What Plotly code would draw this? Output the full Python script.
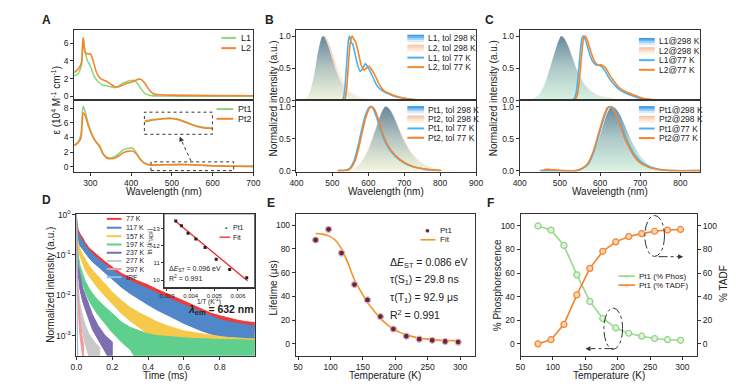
import plotly.graph_objects as go

W, H = 749, 389
def fx(p): return p / W
def fy(p): return 1 - p / H

FONT = "Liberation Sans, Arial, sans-serif"

# ---------------- DATA ----------------
# Panel A (absorption, 10^4 M-1 cm-1)
wl_L1 = [260, 270, 278, 282, 287, 293, 300, 310, 320, 330, 340, 350, 360, 370, 380, 390, 400, 408, 415, 425, 435, 450, 480, 550, 700]
eps_L1 = [2.3, 2.6, 3.5, 6.6, 5.0, 4.0, 3.4, 2.2, 1.6, 1.3, 1.2, 1.1, 1.0, 1.2, 1.5, 1.7, 1.8, 1.8, 1.5, 0.8, 0.3, 0.1, 0.05, 0.03, 0.02]
wl_L2 = [260, 270, 278, 282, 287, 293, 300, 305, 315, 325, 340, 350, 360, 370, 380, 390, 400, 410, 420, 425, 435, 445, 455, 470, 500, 600, 700]
eps_L2 = [2.7, 3.1, 3.8, 6.6, 5.0, 4.8, 4.8, 4.3, 2.7, 2.0, 1.7, 1.4, 1.1, 1.1, 1.3, 1.5, 1.6, 1.8, 1.95, 1.9, 1.4, 0.7, 0.3, 0.2, 0.15, 0.1, 0.08]
wl_Pt = [260, 270, 277, 282, 287, 295, 305, 315, 322, 330, 340, 350, 360, 370, 380, 390, 400, 405, 412, 420, 430, 440, 450, 470, 500, 525, 550, 575, 600, 625, 650, 700]
eps_Pt1 = [2.9, 3.4, 4.5, 8.3, 7.6, 5.8, 4.3, 3.3, 2.8, 1.8, 1.3, 1.2, 1.4, 1.8, 2.3, 2.5, 2.55, 2.5, 2.0, 1.2, 0.6, 0.35, 0.24, 0.26, 0.285, 0.295, 0.27, 0.2, 0.13, 0.09, 0.08, 0.05]
eps_Pt2 = [2.9, 3.3, 4.0, 7.4, 7.0, 5.6, 4.2, 3.3, 2.9, 1.9, 1.2, 1.1, 1.2, 1.5, 1.9, 2.1, 2.15, 2.1, 1.8, 1.2, 0.6, 0.32, 0.22, 0.245, 0.275, 0.285, 0.26, 0.19, 0.12, 0.075, 0.065, 0.04]

# Panel B (toluene)
wl_B_L1_rt = [420, 430, 440, 450, 460, 470, 475, 480, 490, 500, 510, 520, 530, 540, 550, 560, 580, 600, 620]
I_B_L1_rt = [0, 0.05, 0.18, 0.42, 0.75, 0.98, 1.0, 0.96, 0.82, 0.64, 0.46, 0.32, 0.22, 0.15, 0.1, 0.07, 0.03, 0.01, 0]
wl_B_L2_rt = [425, 435, 445, 455, 465, 475, 480, 485, 495, 505, 515, 525, 535, 545, 555, 565, 585, 605, 630]
I_B_L2_rt = [0, 0.05, 0.18, 0.42, 0.75, 0.97, 1.0, 0.96, 0.83, 0.66, 0.49, 0.35, 0.25, 0.17, 0.12, 0.08, 0.04, 0.015, 0]
wl_B_L1_77 = [400, 525, 530, 535, 540, 545, 548, 552, 556, 562, 570, 578, 585, 592, 598, 605, 615, 625, 640, 660, 680, 700, 720, 740]
I_B_L1_77 = [0, 0, 0.02, 0.2, 0.6, 0.95, 1.0, 0.9, 0.88, 0.75, 0.55, 0.45, 0.5, 0.57, 0.52, 0.45, 0.33, 0.22, 0.14, 0.09, 0.05, 0.03, 0.01, 0]
wl_B_L2_77 = [400, 530, 535, 540, 545, 550, 555, 560, 565, 572, 580, 588, 595, 602, 610, 620, 630, 645, 665, 685, 710, 740, 750]
I_B_L2_77 = [0, 0, 0.02, 0.2, 0.6, 0.9, 1.0, 0.95, 0.9, 0.75, 0.55, 0.47, 0.5, 0.53, 0.47, 0.37, 0.25, 0.14, 0.09, 0.05, 0.02, 0.005, 0]
wl_B_Pt_rt = [540, 560, 580, 600, 620, 635, 645, 650, 660, 670, 680, 690, 700, 720, 740, 760, 780, 800, 850]
I_B_Pt1_rt = [0, 0.03, 0.12, 0.32, 0.63, 0.88, 0.99, 1.0, 0.95, 0.85, 0.72, 0.58, 0.46, 0.27, 0.15, 0.08, 0.04, 0.02, 0]
I_B_Pt2_rt = [0, 0.04, 0.14, 0.35, 0.66, 0.9, 0.99, 1.0, 0.96, 0.87, 0.74, 0.6, 0.48, 0.29, 0.17, 0.09, 0.05, 0.02, 0]
wl_B_Pt1_77 = [515, 540, 550, 560, 570, 580, 590, 600, 607, 615, 625, 635, 645, 660, 680, 700, 720, 740, 760, 780, 800]
I_B_Pt1_77 = [0, 0.01, 0.05, 0.15, 0.35, 0.6, 0.83, 0.97, 1.0, 0.95, 0.8, 0.62, 0.47, 0.32, 0.2, 0.12, 0.07, 0.04, 0.02, 0.01, 0]
wl_B_Pt2_77 = [515, 543, 553, 563, 573, 583, 593, 603, 610, 618, 628, 638, 648, 663, 683, 703, 723, 743, 763, 783, 803]
I_B_Pt2_77 = [0, 0.01, 0.05, 0.15, 0.35, 0.6, 0.83, 0.97, 1.0, 0.95, 0.8, 0.62, 0.47, 0.32, 0.2, 0.12, 0.07, 0.04, 0.02, 0.01, 0]

# Panel C (film)
wl_C_L_rt = [430, 450, 465, 480, 495, 503, 510, 520, 530, 540, 550, 560, 575, 590, 610, 640, 680, 700]
I_C_L1_rt = [0, 0.1, 0.3, 0.6, 0.9, 1.0, 0.97, 0.85, 0.68, 0.5, 0.36, 0.25, 0.15, 0.09, 0.05, 0.02, 0.005, 0]
I_C_L2_rt = [0, 0.09, 0.28, 0.58, 0.89, 1.0, 0.98, 0.87, 0.7, 0.53, 0.39, 0.27, 0.17, 0.1, 0.06, 0.025, 0.006, 0]
wl_C_L1_77 = [400, 530, 535, 540, 545, 550, 555, 558, 562, 568, 575, 582, 590, 600, 610, 620, 630, 645, 660, 680, 700, 720, 740]
I_C_L1_77 = [0, 0, 0.02, 0.1, 0.35, 0.7, 0.97, 1.0, 0.97, 0.85, 0.7, 0.6, 0.55, 0.54, 0.48, 0.37, 0.28, 0.18, 0.12, 0.07, 0.03, 0.01, 0]
wl_C_L2_77 = [400, 534, 539, 544, 549, 554, 559, 562, 566, 572, 579, 586, 594, 604, 614, 624, 634, 649, 664, 684, 704, 724, 750]
I_C_L2_77 = [0, 0, 0.02, 0.1, 0.35, 0.7, 0.97, 1.0, 0.97, 0.86, 0.72, 0.61, 0.55, 0.55, 0.5, 0.39, 0.3, 0.19, 0.13, 0.08, 0.035, 0.012, 0]
wl_C_Pt_rt = [540, 560, 575, 590, 605, 615, 625, 630, 640, 650, 660, 670, 680, 690, 700, 720, 740, 760, 790]
I_C_Pt1_rt = [0, 0.05, 0.15, 0.35, 0.65, 0.85, 0.98, 1.0, 0.96, 0.87, 0.73, 0.58, 0.44, 0.33, 0.23, 0.1, 0.045, 0.02, 0]
I_C_Pt2_rt = [0, 0.05, 0.15, 0.36, 0.66, 0.86, 0.98, 1.0, 0.95, 0.85, 0.7, 0.55, 0.41, 0.3, 0.2, 0.09, 0.04, 0.015, 0]
wl_C_Pt1_77 = [450, 540, 555, 570, 585, 600, 610, 620, 625, 635, 645, 655, 665, 675, 685, 700, 720, 740, 760, 780, 850]
I_C_Pt1_77 = [0, 0, 0.03, 0.1, 0.3, 0.62, 0.83, 0.98, 1.0, 0.95, 0.83, 0.67, 0.5, 0.37, 0.26, 0.15, 0.07, 0.03, 0.01, 0, 0]
wl_C_Pt2_77 = [455, 465, 480, 500, 540, 553, 568, 583, 598, 608, 618, 623, 633, 643, 653, 663, 673, 683, 698, 718, 738, 758, 778, 850]
I_C_Pt2_77 = [0.0, 0.02, 0.015, 0.005, 0, 0.03, 0.1, 0.3, 0.62, 0.83, 0.98, 1.0, 0.95, 0.82, 0.65, 0.48, 0.35, 0.24, 0.13, 0.06, 0.025, 0.008, 0, 0]

# Panel D (transient decays, upper / lower envelope of the noisy traces)
t_d = [0, 0.003, 0.01, 0.02, 0.035, 0.05, 0.07, 0.09, 0.12, 0.16, 0.2, 0.25, 0.3, 0.35, 0.4, 0.45, 0.5, 0.55, 0.6, 0.65, 0.7, 0.75, 0.8, 0.85, 0.9, 0.95, 1.0]
d77_hi = [1.0, 0.6, 0.42, 0.33, 0.27, 0.2, 0.15, 0.125, 0.095, 0.068, 0.05, 0.035, 0.027, 0.022, 0.018, 0.014, 0.011, 0.009, 0.0072, 0.0058, 0.0045, 0.0036, 0.0031, 0.0027, 0.0024, 0.0022, 0.0021]
d77_lo = [1.0, 0.45, 0.3, 0.24, 0.2, 0.15, 0.11, 0.09, 0.068, 0.05, 0.036, 0.025, 0.019, 0.015, 0.012, 0.0095, 0.0075, 0.006, 0.0048, 0.0038, 0.003, 0.0024, 0.002, 0.0017, 0.0015, 0.0014, 0.0013]
d117_hi = [1.0, 0.5, 0.36, 0.28, 0.23, 0.17, 0.13, 0.105, 0.08, 0.058, 0.043, 0.03, 0.023, 0.018, 0.0145, 0.0115, 0.009, 0.0072, 0.0058, 0.0047, 0.0037, 0.003, 0.0025, 0.0022, 0.002, 0.0018, 0.0017]
d117_lo = [1.0, 0.3, 0.22, 0.17, 0.14, 0.11, 0.085, 0.068, 0.05, 0.036, 0.025, 0.016, 0.011, 0.0078, 0.0058, 0.0043, 0.0033, 0.0026, 0.002, 0.0016, 0.0013, 0.0011, 0.00095, 0.00085, 0.00078, 0.00072, 0.00068]
d157_hi = [1.0, 0.35, 0.2, 0.14, 0.1, 0.075, 0.055, 0.042, 0.03, 0.019, 0.012, 0.0075, 0.005, 0.0037, 0.0028, 0.0022, 0.0018, 0.0015, 0.0013, 0.0012, 0.0011, 0.001, 0.00095, 0.0009, 0.00088, 0.00085, 0.00082]
d157_lo = [1.0, 0.22, 0.12, 0.085, 0.06, 0.042, 0.03, 0.022, 0.015, 0.0095, 0.006, 0.0036, 0.0023, 0.0016, 0.0011, 0.0008, 0.0006, 0.0005, 0.00045, 0.0004, 0.0004, 0.0004, 0.0004, 0.0004, 0.0004, 0.0004, 0.0004]
d197_hi = [1.0, 0.2, 0.1, 0.055, 0.033, 0.022, 0.015, 0.011, 0.0075, 0.0051, 0.0035, 0.0022, 0.0016, 0.0013, 0.0011, 0.001, 0.00095, 0.0009, 0.00088, 0.00085, 0.00085, 0.00082, 0.0008, 0.0008, 0.00078, 0.00078, 0.00075]
d197_lo = [1.0, 0.12, 0.06, 0.032, 0.019, 0.012, 0.0075, 0.0052, 0.0033, 0.002, 0.0012, 0.0007, 0.00045, 0.0002, 0.0002, 0.0002, 0.0002, 0.0002, 0.0002, 0.0002, 0.0002, 0.0002, 0.0002, 0.0002, 0.0002, 0.0002, 0.0002]
t_237 = [0, 0.003, 0.01, 0.02, 0.035, 0.05, 0.07, 0.09, 0.12, 0.16, 0.2]
d237_hi = [1.0, 0.12, 0.055, 0.03, 0.015, 0.01, 0.0055, 0.0033, 0.0018, 0.001, 0.0007]
d237_lo = [1.0, 0.06, 0.028, 0.014, 0.007, 0.0045, 0.0025, 0.0014, 0.0008, 0.0004, 0.0002]
t_277 = [0, 0.003, 0.01, 0.02, 0.035, 0.05, 0.07, 0.1, 0.13]
d277_hi = [1.0, 0.05, 0.015, 0.006, 0.003, 0.0018, 0.0011, 0.0007, 0.0005]
d277_lo = [1.0, 0.025, 0.007, 0.0025, 0.0012, 0.0006, 0.0003, 0.0002, 0.0002]
t_297 = [0, 0.002, 0.005, 0.01, 0.015, 0.02, 0.03, 0.04]
d297_hi = [1.0, 0.2, 0.04, 0.012, 0.005, 0.0025, 0.0011, 0.0006]
d297_lo = [1.0, 0.1, 0.02, 0.005, 0.002, 0.001, 0.0004, 0.0002]
t_irf = [0, 0.002, 0.004, 0.006, 0.01]
d_irf = [1.0, 0.05, 0.003, 0.0005, 0.0002]
decay_labels = ["77 K", "117 K", "157 K", "197 K", "237 K", "277 K", "297 K", "IRF"]
decay_colors = ["#f03a3a", "#4f87c9", "#f6c94a", "#5fcf8e", "#7f6db2", "#c9c9c9", "#f39a9a", "#8dbbe6"]

# Panel D inset (Arrhenius)
invT = [0.00337, 0.00361, 0.00389, 0.00422, 0.00461, 0.00508, 0.00565, 0.00637]
ln_k = [13.45, 13.17, 12.73, 12.39, 11.9, 11.22, 10.62, 10.13]
fit_invT = [0.00335, 0.0064]
fit_lnk = [13.45, 9.95]

# Panel E
T_E = [77, 97, 117, 137, 157, 177, 197, 217, 237, 257, 277, 297]
tau_E = [87.5, 96.5, 76.5, 50, 37, 23, 12.5, 6.5, 4, 3, 2, 1.5]
T_fit = [77, 87, 97, 107, 117, 127, 137, 147, 157, 167, 177, 187, 197, 207, 217, 227, 237, 247, 257, 267, 277, 287, 297]
tau_fit = [93, 92.5, 91, 87.5, 80, 68, 54, 44, 35, 28, 21.5, 16.5, 12.5, 9.7, 7.6, 6.1, 5.0, 4.2, 3.6, 3.2, 2.9, 2.7, 2.5]

# Panel F
T_F = [77, 97, 117, 137, 157, 177, 197, 217, 237, 257, 277, 297]
phos = [100, 96.5, 83.5, 58.5, 36, 21.5, 13.5, 9, 6.5, 4.5, 3.5, 3]
tadf = [0, 3.5, 16.5, 41.5, 64, 78.5, 86.5, 91, 93.5, 95.5, 96.5, 97]

# ---------------- COLORS ----------------
GREEN_A = "#8fd57f"
ORANGE = "#f5852a"
BLUE77 = "#4cb2ef"
FILL_BLUE = [[0, "#f2f5de"], [0.5, "#b6c6c2"], [1, "#66879c"]]
FILL_BLUE_C = [[0, "#d8f3e0"], [0.5, "#afcaca"], [1, "#67899e"]]
FILL_PEACH = [[0, "#fdf5ee"], [1, "#f9d3b8"]]

fig = go.Figure()

def line(x, y, ax, color, width=1.6):
    fig.add_trace(go.Scatter(x=x, y=y, mode="lines", line=dict(color=color, width=width, shape="spline", smoothing=0.6),
                             xaxis="x" + ax, yaxis="y" + ax, hoverinfo="skip"))

def filled(x, y, ax, scale):
    fig.add_trace(go.Scatter(x=x, y=y, mode="lines", line=dict(width=0, shape="spline", smoothing=0.6), fill="tozeroy",
                             fillgradient=dict(type="vertical", colorscale=scale),
                             xaxis="x" + ax, yaxis="y" + ax, hoverinfo="skip"))

# A
line(wl_L1, eps_L1, "", GREEN_A)
line(wl_L2, eps_L2, "", ORANGE)
line(wl_Pt, eps_Pt1, "2", GREEN_A)
line(wl_Pt, eps_Pt2, "2", ORANGE)
line(wl_Pt, eps_Pt1, "3", GREEN_A)
line(wl_Pt, eps_Pt2, "3", ORANGE)

# B
filled(wl_B_L2_rt, I_B_L2_rt, "4", FILL_PEACH)
filled(wl_B_L1_rt, I_B_L1_rt, "4", FILL_BLUE)
line(wl_B_L1_77, I_B_L1_77, "4", BLUE77)
line(wl_B_L2_77, I_B_L2_77, "4", ORANGE)
filled(wl_B_Pt_rt, I_B_Pt2_rt, "5", FILL_PEACH)
filled(wl_B_Pt_rt, I_B_Pt1_rt, "5", FILL_BLUE)
line(wl_B_Pt1_77, I_B_Pt1_77, "5", BLUE77)
line(wl_B_Pt2_77, I_B_Pt2_77, "5", ORANGE)

# C
filled(wl_C_L_rt, I_C_L2_rt, "6", FILL_PEACH)
filled(wl_C_L_rt, I_C_L1_rt, "6", FILL_BLUE_C)
line(wl_C_L1_77, I_C_L1_77, "6", BLUE77)
line(wl_C_L2_77, I_C_L2_77, "6", ORANGE)
filled(wl_C_Pt_rt, I_C_Pt2_rt, "7", FILL_PEACH)
filled(wl_C_Pt_rt, I_C_Pt1_rt, "7", FILL_BLUE_C)
line(wl_C_Pt1_77, I_C_Pt1_77, "7", BLUE77)
line(wl_C_Pt2_77, I_C_Pt2_77, "7", ORANGE)

# D bands
bands = [(t_d, d77_hi, d77_lo), (t_d, d117_hi, d117_lo), (t_d, d157_hi, d157_lo), (t_d, d197_hi, d197_lo),
         (t_237, d237_hi, d237_lo), (t_277, d277_hi, d277_lo), (t_297, d297_hi, d297_lo)]
for (tt, hi, lo), col in zip(bands, decay_colors):
    fig.add_trace(go.Scatter(x=list(tt) + list(tt)[::-1], y=list(hi) + list(lo)[::-1], mode="lines",
                             line=dict(color=col, width=1), fill="toself", fillcolor=col,
                             xaxis="x8", yaxis="y8", hoverinfo="skip"))
fig.add_trace(go.Scatter(x=t_irf, y=d_irf, mode="lines", line=dict(color=decay_colors[7], width=1.2),
                         xaxis="x8", yaxis="y8", hoverinfo="skip"))

# D inset (white background + data)
INS_X = [0.002875, 0.00671]
INS_Y = [9.56, 13.87]
fig.add_trace(go.Scatter(x=[INS_X[0], INS_X[1], INS_X[1], INS_X[0]], y=[INS_Y[0], INS_Y[0], INS_Y[1], INS_Y[1]],
                         mode="none", fill="toself", fillcolor="white", xaxis="x9", yaxis="y9", hoverinfo="skip"))
fig.add_trace(go.Scatter(x=fit_invT, y=fit_lnk, mode="lines", line=dict(color="#f0262b", width=1.3),
                         xaxis="x9", yaxis="y9", hoverinfo="skip"))
fig.add_trace(go.Scatter(x=invT, y=ln_k, mode="markers", marker=dict(color="#222", size=3, symbol="square"),
                         xaxis="x9", yaxis="y9", hoverinfo="skip"))

# E
fig.add_trace(go.Scatter(x=T_fit, y=tau_fit, mode="lines", line=dict(color="#f7931e", width=1.6, shape="spline"),
                         xaxis="x10", yaxis="y10", hoverinfo="skip"))
fig.add_trace(go.Scatter(x=T_E, y=tau_E, mode="markers",
                         marker=dict(color="#6e2236", size=6, line=dict(color="#d7b3bd", width=1.2)),
                         xaxis="x10", yaxis="y10", hoverinfo="skip"))

# F
fig.add_trace(go.Scatter(x=T_F, y=phos, mode="lines+markers", line=dict(color="#96d98a", width=1.6),
                         marker=dict(color="#dff2da", size=6, line=dict(color="#8fd283", width=1.2)),
                         xaxis="x11", yaxis="y11", hoverinfo="skip"))
fig.add_trace(go.Scatter(x=T_F, y=tadf, mode="lines+markers", line=dict(color="#f5822a", width=1.6),
                         marker=dict(color="#fbd3b6", size=6, line=dict(color="#f5822a", width=1.2)),
                         xaxis="x11", yaxis="y12", hoverinfo="skip"))

# ---------------- AXES ----------------
TICKF = dict(family=FONT, size=8.5, color="#222")

def axis(d0, d1, rng, anchor, **kw):
    base = dict(domain=[d0, d1], range=rng, anchor=anchor, showline=True, mirror=True, linecolor="#333",
                linewidth=1, ticks="outside", ticklen=3, tickcolor="#333", tickwidth=1,
                tickfont=TICKF, showgrid=False, zeroline=False)
    base.update(kw)
    return base

def xdom(a, b): return (fx(a), fx(b))
def ydom(top, bot): return (fy(bot), fy(top))

lay = {}
# A
lay["xaxis"] = axis(*xdom(68.4, 251), [260, 700], "y", showticklabels=False, ticks="", tickvals=[300, 400, 500, 600, 700])
lay["yaxis"] = axis(*ydom(26, 98), [-0.45, 7.45], "x", tickvals=[0, 2, 4, 6])
lay["xaxis2"] = axis(*xdom(68.4, 251), [260, 700], "y2", tickvals=[300, 400, 500, 600, 700])
lay["yaxis2"] = axis(*ydom(98, 171), [-0.67, 9.07], "x2", tickvals=[0, 2, 4, 6, 8])
lay["xaxis3"] = dict(domain=list(xdom(140.5, 209)), range=[450, 650], anchor="y3", visible=False)
lay["yaxis3"] = dict(domain=list(ydom(110.5, 132.5)), range=[-0.06, 0.414], anchor="x3", visible=False)
# B
lay["xaxis4"] = axis(*xdom(295, 478), [400, 900], "y4", showticklabels=False, ticks="", tickvals=[400, 500, 600, 700, 800, 900])
lay["yaxis4"] = axis(*ydom(26, 98), [-0.005, 1.09], "x4", tickvals=[0, 0.5, 1.0], tickformat=".1f")
lay["xaxis5"] = axis(*xdom(295, 478), [400, 900], "y5", tickvals=[400, 500, 600, 700, 800, 900])
lay["yaxis5"] = axis(*ydom(98, 171), [-0.015, 1.095], "x5", tickvals=[0, 0.5, 1.0], tickformat=".1f")
# C
lay["xaxis6"] = axis(*xdom(522.5, 706.7), [400, 850], "y6", showticklabels=False, ticks="", tickvals=[400, 500, 600, 700, 800])
lay["yaxis6"] = axis(*ydom(26, 98), [-0.005, 1.09], "x6", tickvals=[0, 0.5, 1.0], tickformat=".1f")
lay["xaxis7"] = axis(*xdom(522.5, 706.7), [400, 850], "y7", tickvals=[400, 500, 600, 700, 800])
lay["yaxis7"] = axis(*ydom(98, 171), [-0.015, 1.095], "x7", tickvals=[0, 0.5, 1.0], tickformat=".1f")
# D
lay["xaxis8"] = axis(*xdom(70.7, 252.5), [0, 0.995], "y8", tickvals=[0, 0.2, 0.4, 0.6, 0.8, 1.0], tickformat=".1f")
lay["yaxis8"] = axis(*ydom(214.3, 360), [-3.5, 0.02], "x8", type="log",
                     tickvals=[1, 0.1, 0.01, 0.001],
                     ticktext=["10<sup>0</sup>", "10<sup>-1</sup>", "10<sup>-2</sup>", "10<sup>-3</sup>"])
INSF = dict(family=FONT, size=6, color="#222")
lay["xaxis9"] = axis(*xdom(160, 252.5), INS_X, "y9", tickvals=[0.003, 0.004, 0.005, 0.006], tickformat=".3f",
                     tickfont=INSF, ticklen=2)
lay["yaxis9"] = axis(*ydom(214.3, 290), INS_Y, "x9", tickvals=[10, 11, 12, 13], tickfont=INSF, ticklen=2)
# E
lay["xaxis10"] = axis(*xdom(294.3, 476.7), [46.4, 322.7], "y10", tickvals=[50, 100, 150, 200, 250, 300])
lay["yaxis10"] = axis(*ydom(214.3, 360), [-10, 109.6], "x10", tickvals=[0, 20, 40, 60, 80, 100])
# F
lay["xaxis11"] = axis(*xdom(523.3, 703.3), [50, 322.7], "y11", tickvals=[50, 100, 150, 200, 250, 300])
lay["yaxis11"] = axis(*ydom(214.3, 360), [-10.1, 110.3], "x11", tickvals=[0, 20, 40, 60, 80, 100], mirror=False)
lay["yaxis12"] = axis(*ydom(214.3, 360), [-10.1, 110.3], "x11", overlaying="y11", side="right",
                      tickvals=[0, 20, 40, 60, 80, 100], mirror=False)

fig.update_layout(**lay)

# ---------------- ANNOTATIONS / SHAPES ----------------
ann = []
shapes = []

def text(x, y, s, size=9, xanchor="left", angle=0, bold=False, color="#222", yanchor="middle"):
    ann.append(dict(x=fx(x), y=fy(y), xref="paper", yref="paper", text=("<b>%s</b>" % s) if bold else s,
                    showarrow=False, xanchor=xanchor, yanchor=yanchor, textangle=angle,
                    font=dict(family=FONT, size=size, color=color)))

def hline(x0, x1, y, color, width=2, dash=None):
    ln = dict(color=color, width=width)
    if dash:
        ln["dash"] = dash
    shapes.append(dict(type="line", xref="paper", yref="paper", x0=fx(x0), x1=fx(x1), y0=fy(y), y1=fy(y), line=ln))

def arrowhead(x, y, dx, dy):
    ann.append(dict(x=fx(x), y=fy(y), xref="paper", yref="paper", ax=dx, ay=dy, showarrow=True, arrowhead=2,
                    arrowsize=1, arrowwidth=1, arrowcolor="#333", text=" ", font=dict(size=1)))

def swatch(x0, x1, yc, cols):
    h = 7.0
    n = len(cols)
    for i, c in enumerate(cols):
        t = yc - h / 2 + i * h / n
        shapes.append(dict(type="rect", xref="paper", yref="paper", x0=fx(x0), x1=fx(x1), y0=fy(t + h / n + 0.3), y1=fy(t),
                           line=dict(width=0), fillcolor=c))

SW_BLUE = ["#3a9be7", "#67b4ef", "#a3d1f6", "#d8ecfb"]
SW_PEACH = ["#f8c4a2", "#fad4bc", "#fce3d3", "#fef1e8"]

# panel letters
text(40, 15, "A", 12, "center", bold=True)
text(268, 15, "B", 12, "center", bold=True)
text(492, 15, "C", 12, "center", bold=True)
text(40, 200, "D", 12, "center", bold=True)
text(269, 203, "E", 12, "center", bold=True)
text(493, 203, "F", 12, "center", bold=True)

# axis titles
TS = 10
text(160, 191, "Wavelength (nm)", TS, "center")
text(386, 191, "Wavelength (nm)", TS, "center")
text(614, 191, "Wavelength (nm)", TS, "center")
text(50, 98, "ε (10<sup>4</sup> M<sup>-1</sup> cm<sup>-1</sup>)", TS, "center", angle=-90)
text(272, 96, "Normalized intensity (a.u.)", TS, "center", angle=-90)
text(496, 96, "Normalized intensity (a.u.)", TS, "center", angle=-90)
text(161.5, 380, "Time (ms)", TS, "center")
text(44, 287, "Normalized intensity (a.u.)", TS, "center", angle=-90)
text(385, 380, "Temperature (K)", TS, "center")
text(272, 290, "Lifetime (μs)", TS, "center", angle=-90)
text(613, 380, "Temperature (K)", TS, "center")
text(500, 288, "% Phosphorescence", TS, "center", angle=-90)
text(730, 286, "% TADF", TS, "center", angle=-90)

# A legends
hline(218.5, 233.5, 33.8, GREEN_A)
text(236, 33.8, "L1", 9)
hline(218.5, 233.5, 44.3, ORANGE)
text(236, 44.3, "L2", 9)
hline(213.5, 230.5, 106.8, GREEN_A)
text(233, 106.8, "Pt1", 9)
hline(213.5, 230.5, 116.8, ORANGE)
text(233, 116.8, "Pt2", 9)

# A inset boxes + arrow
shapes.append(dict(type="rect", xref="paper", yref="paper", x0=fx(140), x1=fx(209.3), y0=fy(132.7), y1=fy(110),
                   line=dict(color="#333", width=1, dash="dot")))
shapes.append(dict(type="rect", xref="paper", yref="paper", x0=fx(146.7), x1=fx(231), y0=fy(170), y1=fy(161),
                   line=dict(color="#333", width=1, dash="dot")))
shapes.append(dict(type="line", xref="paper", yref="paper", x0=fx(187.5), y0=fy(160), x1=fx(177.5), y1=fy(138.5),
                   line=dict(color="#333", width=1, dash="dot")))
arrowhead(176, 135, 2.5, 6)

# B legends
b_top = [(34, "L1, tol 298 K", "sw", SW_BLUE), (44.3, "L2, tol 298 K", "sw", SW_PEACH),
         (54, "L1, tol 77 K", "ln", BLUE77), (63.8, "L2, tol 77 K", "ln", ORANGE)]
b_bot = [(107.3, "Pt1, tol 298 K", "sw", SW_BLUE), (117, "Pt2, tol 298 K", "sw", SW_PEACH),
         (126.7, "Pt1, tol 77 K", "ln", BLUE77), (136.3, "Pt2, tol 77 K", "ln", ORANGE)]
for rows in (b_top, b_bot):
    for y, s, kind, c in rows:
        if kind == "sw":
            swatch(408, 425, y, c)
        else:
            hline(408, 425, y, c, 2)
        text(427, y, s, 8.5)
c_top = [(37.3, "L1@298 K", "sw", SW_BLUE), (46.8, "L2@298 K", "sw", SW_PEACH),
         (56.6, "L1@77 K", "ln", BLUE77), (66.5, "L2@77 K", "ln", ORANGE)]
c_bot = [(107.3, "Pt1@298 K", "sw", SW_BLUE), (117.2, "Pt2@298 K", "sw", SW_PEACH),
         (126.8, "Pt1@77 K", "ln", BLUE77), (136.6, "Pt2@77 K", "ln", ORANGE)]
for rows in (c_top, c_bot):
    for y, s, kind, c in rows:
        if kind == "sw":
            swatch(644, 660, y, c)
        else:
            hline(644, 660, y, c, 2)
        text(662, y, s, 8.5)

# D legend
d_rows = [219.5, 228.6, 237.3, 245.8, 254.3, 262.7, 271, 279.3]
for y, s, c in zip(d_rows, decay_labels, decay_colors):
    hline(101.7, 116.7, y, c, 2)
    text(119.5, y, s, 7)
# D inset frame (redraw on top), legend, texts
shapes.append(dict(type="rect", xref="paper", yref="paper", x0=fx(160), x1=fx(252.5), y0=fy(290), y1=fy(214.3),
                   line=dict(color="#333", width=1)))
ann.append(dict(x=fx(223.5), y=fy(228.5), xref="paper", yref="paper", text="▪", showarrow=False,
                font=dict(size=6, color="#222"), xanchor="center", yanchor="middle"))
text(228.5, 228.5, "Pt1", 7)
hline(216.5, 227.5, 238.3, "#f0262b", 1.3)
text(228.5, 238.3, "Fit", 7)
text(163, 270.5, "Δ<i>E</i><sub>ST</sub> = 0.096 eV", 7)
text(163, 280, "R<sup>2</sup> = 0.991", 7)
text(206, 304, "1/T (K<sup>-1</sup>)", 6.5, "center")
text(145.5, 243, "ln (<i>k</i><sub>TADF</sub>)", 6.5, "center", angle=-90)
text(182, 313, "<b><i>λ</i><sub>em</sub> = 632 nm</b>", 10.5)

# E legend and texts
ann.append(dict(x=fx(429), y=fy(231.7), xref="paper", yref="paper", text="●", showarrow=False,
                font=dict(size=8, color="#6e2236"), xanchor="center", yanchor="middle"))
text(439, 231.7, "Pt1", 8)
hline(421.5, 436.5, 241, "#f7931e", 1.6)
text(439, 241, "Fit", 8)
ES = 10.5
text(388, 265, "Δ<i>E</i><sub>ST</sub> = 0.086 eV", ES)
text(388, 282.5, "τ(S<sub>1</sub>) = 29.8 ns", ES)
text(388, 300.7, "τ(T<sub>1</sub>) = 92.9 μs", ES)
text(388, 317.5, "R<sup>2</sup> = 0.991", ES)

# F legend
hline(623, 640, 278.3, "#96d98a", 1.6)
ann.append(dict(x=fx(631.5), y=fy(278.3), xref="paper", yref="paper", text="○", showarrow=False,
                font=dict(size=8, color="#8fd283"), xanchor="center", yanchor="middle"))
text(642, 278.3, "Pt1 (% Phos)", 8)
hline(623, 640, 287.5, "#f5822a", 1.6)
ann.append(dict(x=fx(631.5), y=fy(287.5), xref="paper", yref="paper", text="○", showarrow=False,
                font=dict(size=8, color="#f5822a"), xanchor="center", yanchor="middle"))
text(642, 287.5, "Pt1 (% TADF)", 8)

# F ellipses and arrows
shapes.append(dict(type="circle", xref="paper", yref="paper", x0=fx(650), x1=fx(670), y0=fy(258), y1=fy(216),
                   line=dict(color="#333", width=1, dash="dashdot")))
shapes.append(dict(type="line", xref="paper", yref="paper", x0=fx(664), x1=fx(684), y0=fy(258.3), y1=fy(258.3),
                   line=dict(color="#333", width=1, dash="dashdot")))
arrowhead(689, 258.3, -6, 0)
shapes.append(dict(type="circle", xref="paper", yref="paper", x0=fx(608.3), x1=fx(627.3), y0=fy(353.3), y1=fy(311),
                   line=dict(color="#333", width=1, dash="dashdot")))
shapes.append(dict(type="line", xref="paper", yref="paper", x0=fx(618), x1=fx(595), y0=fy(352.7), y1=fy(352.7),
                   line=dict(color="#333", width=1, dash="dashdot")))
arrowhead(589.5, 352.7, 6, 0)

fig.update_layout(annotations=ann, shapes=shapes, width=W, height=H, margin=dict(l=0, r=0, t=0, b=0),
                  paper_bgcolor="white", plot_bgcolor="rgba(0,0,0,0)", showlegend=False,
                  font=dict(family=FONT, size=9, color="#222"))

fig.write_html("out.html", config={"displayModeBar": False, "staticPlot": True},
               post_script="document.body.style.margin='0';document.body.style.padding='0';")
